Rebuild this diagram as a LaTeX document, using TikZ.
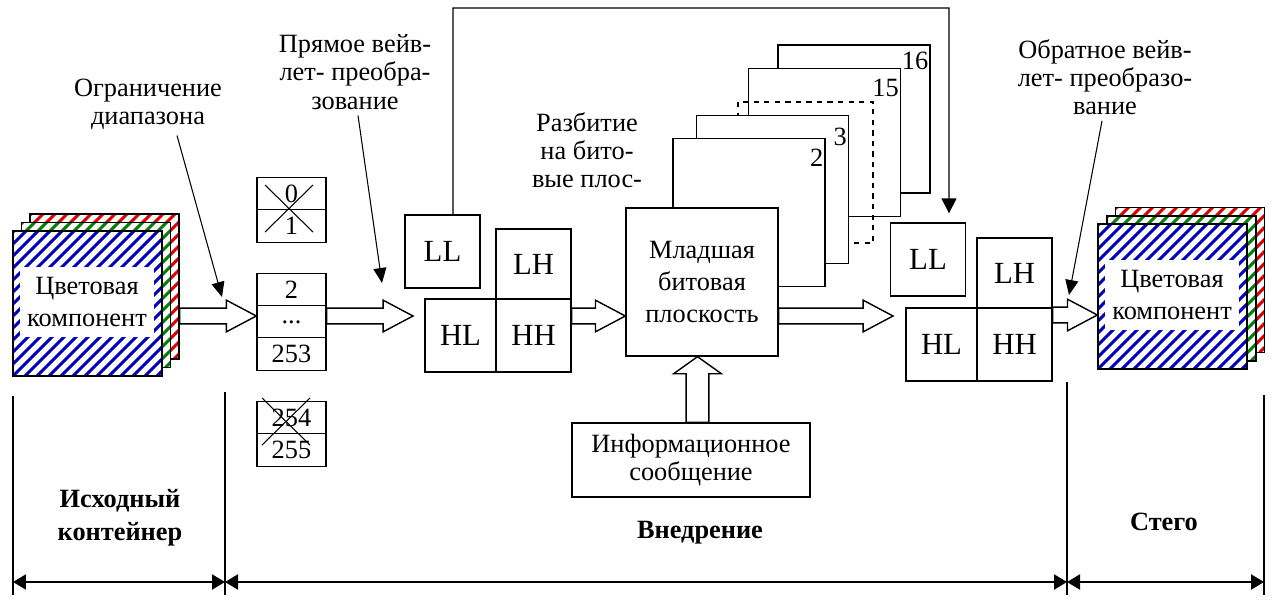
\documentclass[tikz,border=0pt]{standalone}
\usepackage{fontspec}
\setmainfont{Liberation Serif}
\usetikzlibrary{arrows.meta,calc}

\begin{document}
\begin{tikzpicture}[x=0.02cm,y=-0.02cm,
  cell/.style={draw,thick,fill=white,inner sep=0pt,font=\fontsize{17.5}{20}\selectfont,minimum width=1.5cm,minimum height=1.46cm},
  rowbox/.style={draw,thick,fill=white,inner sep=0pt,font=\fontsize{15}{17}\selectfont,minimum width=1.38cm,minimum height=0.65cm},
  planebox/.style={draw,thick,fill=white,minimum width=3.04cm,minimum height=2.96cm},
  stripes/.style={path picture={\foreach \k in {-14,...,13}
    \draw[#1,line width=1.7pt] ([xshift={\k*0.24cm}]path picture bounding box.south west) -- ++(3.2cm,3.2cm);}},
  compbox/.style={draw,thick,fill=white,inner sep=0pt,minimum width=2.98cm,minimum height=2.9cm,stripes=#1},
  comptext/.style={fill=white,inner sep=0pt,minimum width=2.68cm,minimum height=1.4cm,align=center,font=\fontsize{15}{18}\selectfont},
  wlabel/.style={align=center,font=\fontsize{15}{16}\selectfont},
  numlbl/.style={anchor=east,inner sep=0pt,font=\fontsize{15}{17}\selectfont},
  ptr/.style={semithick,-{Triangle[length=0.3cm,width=0.26cm]}},
  dimarrow/.style={very thick,{Triangle[length=0.26cm,width=0.3cm]}-{Triangle[length=0.26cm,width=0.3cm]}},
  barrow/.style={thick,fill=white,to path={let \p1=(\tikztostart),\p2=(\tikztotarget) in
    (\x1,\y1+4.5pt) -- (\x2-17pt,\y1+4.5pt) -- (\x2-17pt,\y1+9pt) -- (\x2,\y1)
    -- (\x2-17pt,\y1-9pt) -- (\x2-17pt,\y1-4.5pt) -- (\x1,\y1-4.5pt) -- cycle}},
  uarrow/.style={thick,fill=white,to path={let \p1=(\tikztostart),\p2=(\tikztotarget) in
    (\x1-6.5pt,\y1) -- (\x1-6.5pt,\y2-9.7pt) -- (\x1-13.6pt,\y2-9.7pt) -- (\x1,\y2)
    -- (\x1+13.6pt,\y2-9.7pt) -- (\x1+6.5pt,\y2-9.7pt) -- (\x1+6.5pt,\y1) -- cycle}}]
\useasboundingbox (0,0) rectangle (1273,599);

% source container
\node[compbox=red!85!black] (srcR) at (104.5,286.5) {};
\node[compbox=green!50!black] (srcG) at (96,295) {};
\node[compbox=blue!75!black] (srcB) at (87.5,303.5) {};
\node[comptext] (srcT) at (87,302) {Цветовая\\компонент};

% range limiting
\node[rowbox] (z0) at (291.5,193.5) {0};
\node[rowbox] (z1) at (291.5,226) {1};
\node[rowbox] (r2) at (291.5,290) {2};
\node[rowbox] (rd) at (291.5,322) {...};
\node[rowbox] (r253) at (291.5,354) {253};
\node[rowbox] (z254) at (291.5,418) {254};
\node[rowbox] (z255) at (291.5,450) {255};
\draw[semithick] (265,185) -- (313,232) (313,185) -- (265,232);
\draw[semithick] (262,398) -- (310,445) (310,398) -- (262,445);

% forward wavelet
\node[cell] (LLa) at (442.5,251.5) {LL};
\node[cell,minimum height=1.4cm] (LHa) at (533.5,264) {LH};
\node[cell,minimum width=1.42cm] (HLa) at (460.5,335.5) {HL};
\node[cell] (HHa) at (533.5,335.5) {HH};

% bit planes
\node[planebox] (p16) at (854,119) {};
\node[planebox] (p15) at (824.5,142.5) {};
\node[draw,thick,dashed,minimum width=2.7cm,minimum height=2.82cm] (pdots) at (805.5,172.5) {};
\node[planebox] (p3) at (772.5,189.5) {};
\node[planebox] (p2) at (749,212.5) {};
\node[planebox,align=center,font=\fontsize{15}{18}\selectfont] (ML) at (702,282) {Младшая\\битовая\\плоскость};
\node[numlbl] (n16) at ([shift={(-2,17)}]p16.north east) {16};
\node[numlbl] (n15) at ([shift={(-2,20)}]p15.north east) {15};
\node[numlbl] (n3) at ([shift={(-2,22)}]p3.north east) {3};
\node[numlbl] (n2) at ([shift={(-2,20)}]p2.north east) {2};

% inverse wavelet
\node[cell] (LLb) at (928,259.5) {LL};
\node[cell,minimum height=1.4cm] (LHb) at (1014.5,273) {LH};
\node[cell,minimum width=1.42cm] (HLb) at (941.5,344.5) {HL};
\node[cell] (HHb) at (1014.5,344.5) {HH};

% stego
\node[compbox=red!85!black] (stR) at (1190,280) {};
\node[compbox=green!50!black] (stG) at (1181.5,288.5) {};
\node[compbox=blue!75!black] (stB) at (1172.5,296.5) {};
\node[comptext] (stT) at (1172,295) {Цветовая\\компонент};

% message
\node[draw,thick,fill=white,minimum width=4.76cm,minimum height=1.48cm,align=center,font=\fontsize{15}{16}\selectfont] (msg) at (691,460) {Информационное\\сообщение};

% block arrows
\coordinate (w1) at (413,316);
\coordinate (w2) at (893,316);
\draw[barrow] (srcR.east |- 0,316) to (rd.west |- 0,316);
\draw[barrow] (rd.east |- 0,316) to (w1);
\draw[barrow] (HHa.east |- 0,316) to (ML.west |- 0,316);
\draw[barrow] (ML.east |- 0,316) to (w2);
\draw[barrow] (HHb.east |- 0,315) to (stB.west |- 0,315);
\draw[uarrow] ([xshift=0.13cm]msg.north) to (ML.south);

% LL bypass
\coordinate (topc) at (949,8);
\draw[thick,-{Triangle[length=0.3cm,width=0.3cm]},shorten >=0.18cm] ([xshift=0.21cm]LLa.north) |- (topc) -- ([xshift=0.42cm]LLb.north);

% labels
\node[wlabel] (limA) at (148,104) {Ограничение\\диапазона};
\node[wlabel] (fwdA) at (355,72) {Прямое вейв-\\лет- преобра-\\зование};
\node[wlabel] (splitA) at (587,150) {Разбитие\\на бито-\\вые плос-};
\node[wlabel] (invA) at (1105,77) {Обратное вейв-\\лет- преобразо-\\вание};
\coordinate (tipA) at (222,297);
\coordinate (tipB) at (382,283);
\coordinate (tipC) at (1069,295);
\draw[ptr] (limA.south -| 177,0) -- (tipA);
\draw[ptr] (fwdA.south -| 358,0) -- (tipB);
\draw[ptr] (invA.south -| 1102,0) -- (tipC);

% stages
\foreach \x/\n in {13/b0,225/b1,1067/b2,1264/b3} \coordinate (\n) at (\x,582);
\draw[semithick] (13,396) -- (13,595) (225,392) -- (225,595) (1067,382) -- (1067,595) (1264,395) -- (1264,595);
\draw[dimarrow] (b0) -- (b1);
\draw[dimarrow] (b1) -- (b2);
\draw[dimarrow] (b2) -- (b3);
\node[align=center,font=\fontsize{15}{19}\selectfont\bfseries] (srcL) at (120,518) {Исходный\\контейнер};
\node[font=\fontsize{15}{19}\selectfont\bfseries] (embL) at (700,533) {Внедрение};
\node[font=\fontsize{15}{19}\selectfont\bfseries] (stegoL) at (1164,522) {Стего};
\end{tikzpicture}
\end{document}
